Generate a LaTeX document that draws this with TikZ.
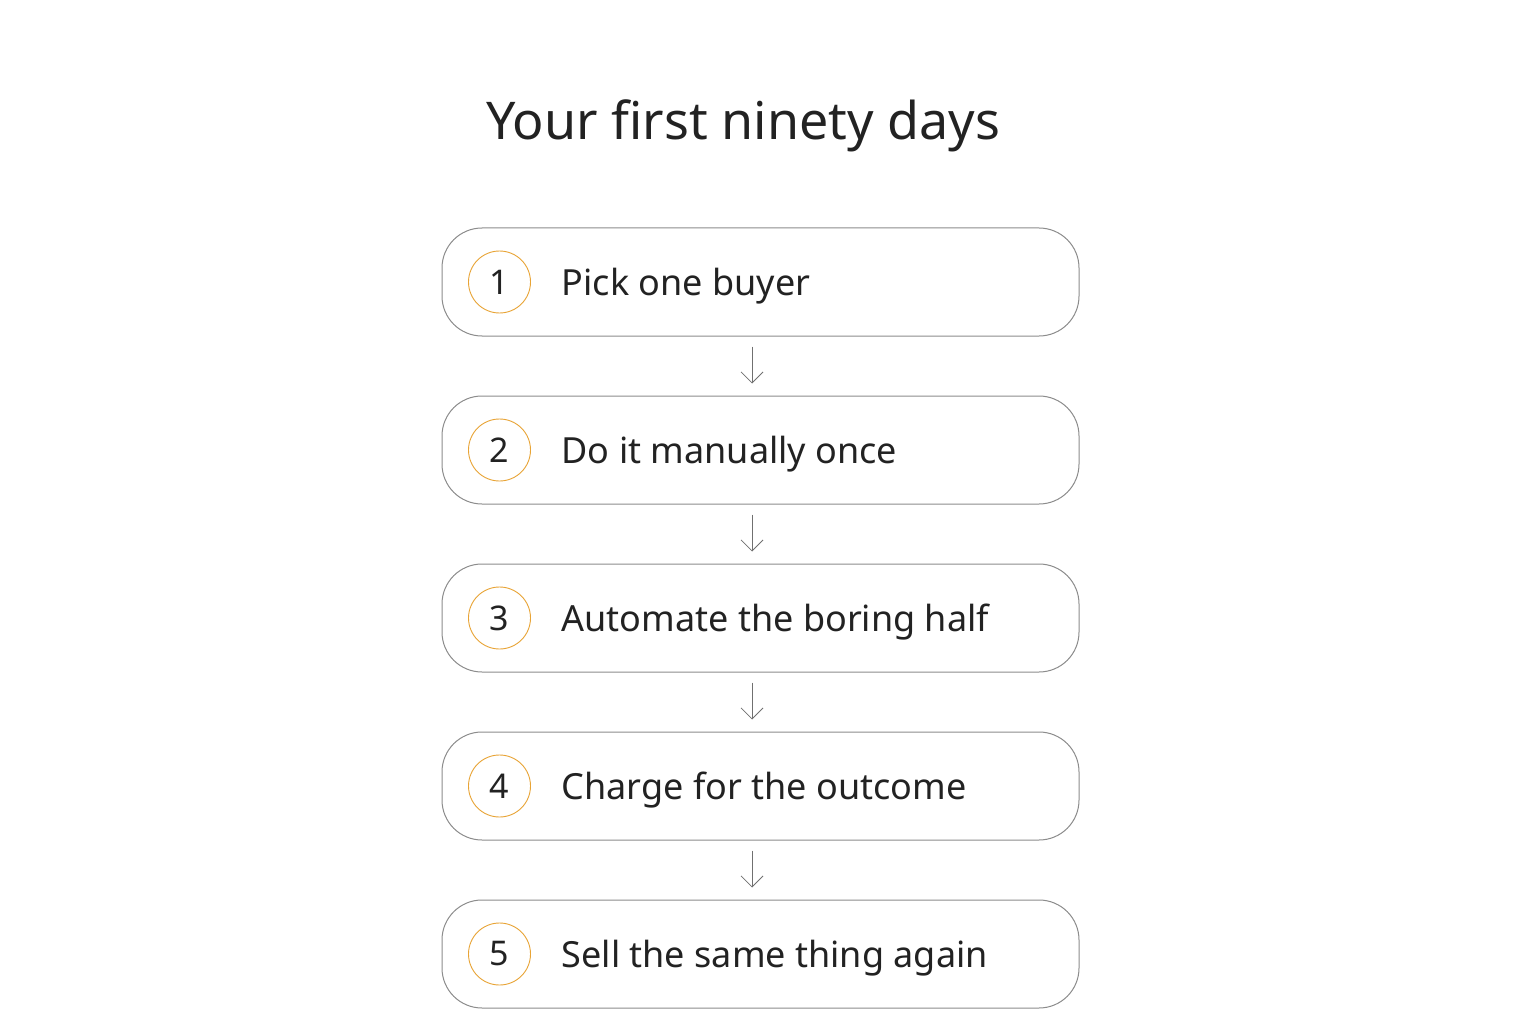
\documentclass[tikz,border=0pt]{standalone}
\usepackage{fontspec}
\setmainfont{Noto Sans}
\usetikzlibrary{positioning, arrows.meta}

\definecolor{boxline}{HTML}{8C8C8C}
\definecolor{ring}{HTML}{E8A436}
\definecolor{ink}{HTML}{222222}

\begin{document}
\begin{tikzpicture}[x=1pt, y=-1pt, node distance=59pt,
    stepbox/.style={draw=boxline, line width=1pt, rounded corners=40pt, minimum width=637pt, minimum height=108pt, fill=white},
    num/.style={draw=ring, line width=0.9pt, circle, minimum size=62pt, inner sep=0pt, text=ink, font=\fontsize{34}{40}\selectfont},
    steptext/.style={anchor=west, inner sep=0pt, text=ink, font=\fontsize{36}{42}\selectfont},
    flow/.style={draw=boxline!80!black, line width=0.8pt, -{Straight Barb[length=11pt, width=22pt, line width=0.8pt]}}]
    \useasboundingbox (0,0) rectangle (1536,1024);

    % Title
    \node[text=ink, font=\fontsize{52}{62}\selectfont] (T) at (743,126) {Your first ninety days};

    % Boxes
    \node[stepbox] (S1) at (760.5,282) {};
    \node[stepbox, below=of S1] (S2) {};
    \node[stepbox, below=of S2] (S3) {};
    \node[stepbox, below=of S3] (S4) {};
    \node[stepbox, below=of S4] (S5) {};

    % Numbers
    \node[num] (N1) at ([xshift=58pt]S1.west) {1};
    \node[num] (N2) at ([xshift=58pt]S2.west) {2};
    \node[num] (N3) at ([xshift=58pt]S3.west) {3};
    \node[num] (N4) at ([xshift=58pt]S4.west) {4};
    \node[num] (N5) at ([xshift=58pt]S5.west) {5};

    % Labels
    \node[steptext] (L1) at ([xshift=120pt, yshift=-4pt]S1.west) {Pick one buyer};
    \node[steptext] (L2) at ([xshift=120pt, yshift=-4pt]S2.west) {Do it manually once};
    \node[steptext] (L3) at ([xshift=120pt, yshift=-4pt]S3.west) {Automate the boring half};
    \node[steptext] (L4) at ([xshift=120pt, yshift=-4pt]S4.west) {Charge for the outcome};
    \node[steptext] (L5) at ([xshift=120pt, yshift=-4pt]S5.west) {Sell the same thing again};

    % Arrows
    \draw[flow] ([xshift=-8.5pt, yshift=-10pt]S1.south) -- ([xshift=-8.5pt, yshift=12pt]S2.north);
    \draw[flow] ([xshift=-8.5pt, yshift=-10pt]S2.south) -- ([xshift=-8.5pt, yshift=12pt]S3.north);
    \draw[flow] ([xshift=-8.5pt, yshift=-10pt]S3.south) -- ([xshift=-8.5pt, yshift=12pt]S4.north);
    \draw[flow] ([xshift=-8.5pt, yshift=-10pt]S4.south) -- ([xshift=-8.5pt, yshift=12pt]S5.north);
\end{tikzpicture}
\end{document}
